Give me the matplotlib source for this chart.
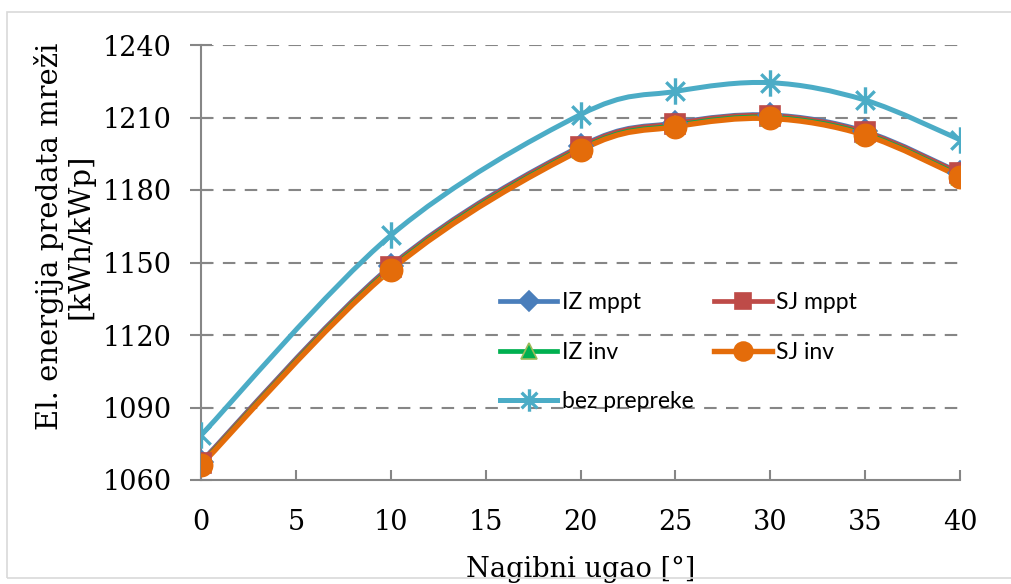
import numpy as np
import matplotlib
matplotlib.use("Agg")
import matplotlib.pyplot as plt
from matplotlib.path import Path
from matplotlib.patches import PathPatch, Rectangle
from matplotlib.lines import Line2D

# data
tilt = [0, 10, 20, 25, 30, 35, 40]
iz_mppt = [1067.5, 1148.6, 1198.2, 1207.8, 1211.1, 1204.3, 1187.2]
sj_mppt = [1067.2, 1148.2, 1197.8, 1207.5, 1210.8, 1203.9, 1186.9]
iz_inv = [1066.6, 1147.5, 1197.0, 1206.7, 1210.1, 1203.2, 1186.0]
sj_inv = [1066.2, 1146.9, 1196.5, 1206.2, 1209.6, 1202.7, 1185.5]
bez_prepreke = [1078.5, 1161.2, 1211.2, 1220.8, 1224.4, 1217.2, 1200.8]

labels = ["IZ mppt", "SJ mppt", "IZ inv", "SJ inv", "bez prepreke"]
y_ticks = [1060, 1090, 1120, 1150, 1180, 1210, 1240]
x_ticks = [0, 5, 10, 15, 20, 25, 30, 35, 40]

SERIF = "DejaVu Serif"
SANS = "Lato"

# Excel-like "star" marker: an x with a vertical bar
STAR = Path(
    [(0, -1), (0, 1), (-0.7, -0.7), (0.7, 0.7), (-0.7, 0.7), (0.7, -0.7)],
    [Path.MOVETO, Path.LINETO, Path.MOVETO, Path.LINETO, Path.MOVETO, Path.LINETO],
)


def smooth_path(x, y):
    # Catmull-Rom style bezier, the way Excel smooths lines
    pts = np.column_stack([x, y]).astype(float)
    verts = [pts[0]]
    codes = [Path.MOVETO]
    n = len(pts)
    for i in range(n - 1):
        p0 = pts[i - 1] if i > 0 else pts[i]
        p1, p2 = pts[i], pts[i + 1]
        p3 = pts[i + 2] if i + 2 < n else pts[i + 1]
        c1 = p1 + (p2 - p0) / 6.0
        c2 = p2 - (p3 - p1) / 6.0
        verts += [c1, c2, p2]
        codes += [Path.CURVE4] * 3
    return Path(verts, codes)


styles = [
    dict(color="#4A7EBB", marker="D", mfc="#4A7EBB", mec="#4A7EBB", ms=12, lw=3.4),
    dict(color="#BE4B48", marker="s", mfc="#BE4B48", mec="#BE4B48", ms=14, lw=3.4),
    dict(color="#00B050", marker="^", mfc="#00B050", mec="#9BBB59", ms=13, lw=3.4),
    dict(color="#E46C0A", marker="o", mfc="#E46C0A", mec="#E46C0A", ms=16, lw=3.9),
    dict(color="#4BACC6", marker=STAR, mfc="none", mec="#4BACC6", ms=19, lw=3.6),
]
series = [iz_mppt, sj_mppt, iz_inv, sj_inv, bez_prepreke]

fig = plt.figure(figsize=(10.11, 5.84), dpi=100)
fig.patches.append(Rectangle((7 / 1011, 6 / 584), 1.1, 566 / 584, transform=fig.transFigure,
                             fill=False, edgecolor="#D9D9D9", linewidth=1.2, zorder=0))
ax = fig.add_axes([201 / 1011, 104 / 584, 759 / 1011, 435 / 584])

handles = []
for vals, st, lab in zip(series, styles, labels):
    mew = 2.4 if st["marker"] is STAR else 1.2
    ax.add_patch(PathPatch(smooth_path(tilt, vals), fill=False, edgecolor=st["color"],
                           linewidth=st["lw"], capstyle="round", joinstyle="round", zorder=3))
    ax.plot(tilt, vals, linestyle="none", marker=st["marker"], markersize=st["ms"],
            markerfacecolor=st["mfc"], markeredgecolor=st["mec"],
            markeredgewidth=mew, zorder=4)
    handles.append(Line2D([], [], color=st["color"], linewidth=st["lw"], marker=st["marker"],
                          markersize=st["ms"], markerfacecolor=st["mfc"],
                          markeredgecolor=st["mec"], markeredgewidth=mew))

ax.set_xlim(0, 40)
ax.set_ylim(1060, 1240)
ax.set_xticks(x_ticks)
ax.set_yticks(y_ticks)

grid_kw = dict(color="#868686", linewidth=1.5, linestyle=(0, (6, 4.5)), zorder=1)
for yv in y_ticks[1:]:
    ax.axhline(yv, **grid_kw)

for side in ["top", "right"]:
    ax.spines[side].set_visible(False)
for side in ["left", "bottom"]:
    ax.spines[side].set_color("#868686")
    ax.spines[side].set_linewidth(1.5)

ax.tick_params(axis="y", direction="inout", length=16, width=1.5, color="#868686", pad=13)
ax.tick_params(axis="x", direction="in", length=7, width=1.5, color="#868686", pad=21)
for lbl in ax.get_xticklabels() + ax.get_yticklabels():
    lbl.set_fontfamily(SERIF)
    lbl.set_fontsize(19.5)

ax.set_xlabel("Nagibni ugao [°]", fontfamily=SERIF, fontsize=19.5)
ax.xaxis.set_label_coords(0.5, -0.205)
ax.xaxis.label.set_verticalalignment("center")
ax.set_ylabel("El. energija predata mreži\n[kWh/kWp]", fontfamily=SERIF, fontsize=21,
              linespacing=1.1)
ax.yaxis.set_label_coords(-0.18, 0.56)
ax.yaxis.label.set_verticalalignment("center")

order = [0, 2, 4, 1, 3]
leg = ax.legend([handles[i] for i in order], [labels[i] for i in order], ncol=2,
                loc="upper left", bbox_to_anchor=(500 / 1011, 1 - 292 / 584),
                bbox_transform=fig.transFigure, frameon=False, prop={"family": SANS, "size": 16.5},
                handlelength=2.5, handletextpad=0.2, columnspacing=0.9, labelspacing=1.25,
                markerscale=0.85, borderpad=0, borderaxespad=0)
leg.set_zorder(5)

fig.savefig("out.png", dpi=100)
